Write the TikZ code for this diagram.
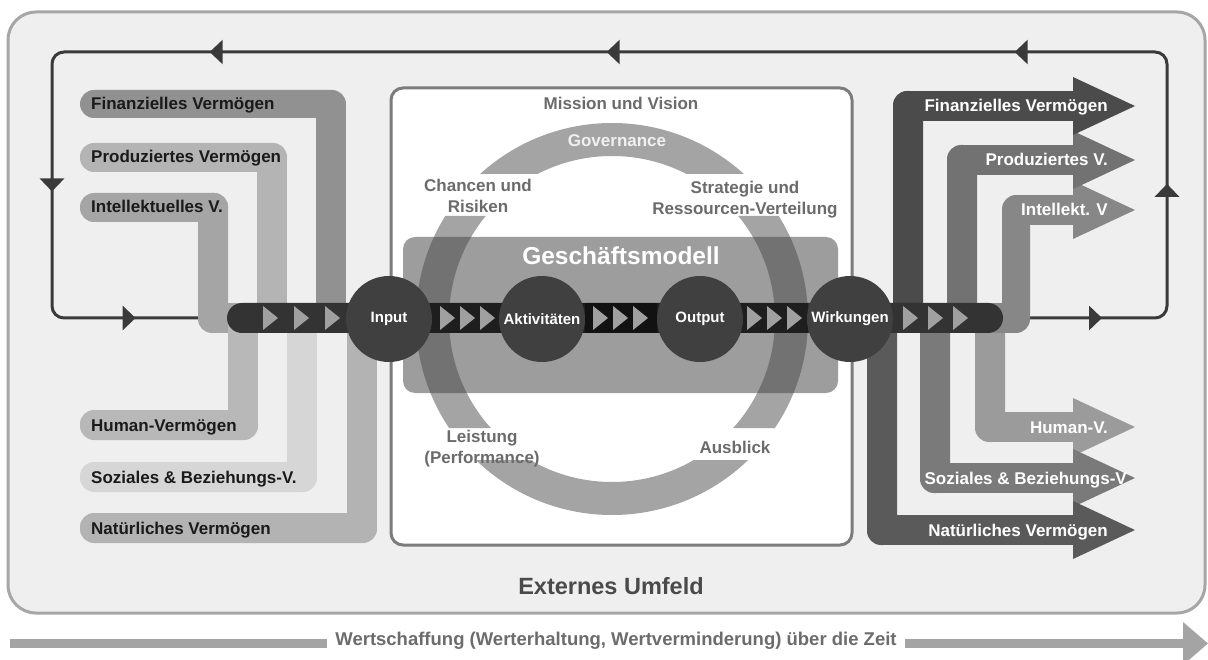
\documentclass[tikz,border=0pt]{standalone}
\usepackage{fontspec}
\setmainfont{Liberation Sans}
\usetikzlibrary{decorations.markings,arrows.meta}
\definecolor{bgfill}{HTML}{EFEFEF}
\definecolor{bgdraw}{HTML}{A6A6A6}
\definecolor{loopc}{HTML}{3A3A3A}
\definecolor{boxdraw}{HTML}{7C7C7C}
\definecolor{ringfill}{HTML}{A4A4A4}
\definecolor{gmfill}{HTML}{464646}
\definecolor{barfill}{HTML}{333333}
\definecolor{barmid}{HTML}{1E1E1E}
\definecolor{barcore}{HTML}{121212}
\definecolor{chevfill}{HTML}{A0A0A0}
\definecolor{hubfill}{HTML}{404040}
\definecolor{lbltext}{HTML}{1A1A1A}
\definecolor{ringtext}{HTML}{6B6B6B}
\definecolor{cLF}{HTML}{919191}
\definecolor{cLP}{HTML}{B4B4B4}
\definecolor{cLI}{HTML}{A5A5A5}
\definecolor{cLH}{HTML}{B8B8B8}
\definecolor{cLS}{HTML}{D6D6D6}
\definecolor{cLN}{HTML}{B3B3B3}
\definecolor{cRF}{HTML}{4B4B4B}
\definecolor{cRP}{HTML}{727272}
\definecolor{cRI}{HTML}{878787}
\definecolor{cRH}{HTML}{9B9B9B}
\definecolor{cRS}{HTML}{7A7A7A}
\definecolor{cRN}{HTML}{5A5A5A}
\definecolor{timec}{HTML}{A4A4A4}
\definecolor{timetext}{HTML}{6C6C6C}
\definecolor{extc}{HTML}{4A4A4A}
\begin{document}
\begin{tikzpicture}[x=1pt,y=-1pt,
  every node/.style={inner sep=0pt},
  lbl/.style={font=\fontsize{17}{21}\selectfont\bfseries},
  leftlbl/.style={lbl, text=lbltext, anchor=base west},
  rightlbl/.style={lbl, text=white, anchor=base east},
  ringlbl/.style={lbl, text=ringtext, align=center},
  hub/.style={circle, fill=hubfill, minimum size=86pt, text=white, font=\fontsize{15}{18}\selectfont\bfseries},
  chev/.style={fill=chevfill},
  loopline/.style={draw=loopc, line width=3pt, rounded corners=12pt,
    postaction={decorate},
    decoration={markings,
      mark=at position 74pt with {\arrow{Triangle[width=24pt,length=13pt]}},
      mark=at position 268pt with {\arrow{Triangle[width=24pt,length=13pt]}},
      mark=at position 547pt with {\arrow{Triangle[width=24pt,length=13pt]}},
      mark=at position 955pt with {\arrow{Triangle[width=24pt,length=13pt]}},
      mark=at position 1352pt with {\arrow{Triangle[width=24pt,length=13pt]}},
      mark=at position 1644pt with {\arrow{Triangle[width=24pt,length=13pt]}},
      mark=at position 1849pt with {\arrow{Triangle[width=24pt,length=13pt]}}}},
]
\useasboundingbox (0,0) rectangle (1208,660);
\fill[white] (0,0) rectangle (1208,660);
% external environment
\draw[line width=3pt, draw=bgdraw, fill=bgfill, rounded corners=28pt] (8,12) rectangle (1205,613);
\node[font=\fontsize{23.5}{27}\selectfont\bfseries, text=extc, anchor=base] (ext) at (611,594) {Externes Umfeld};
% feedback loop
\coordinate (fbStart) at (1028,318);
\coordinate (fbC1) at (1167,318);
\coordinate (fbC2) at (1167,52);
\coordinate (fbC3) at (52,52);
\coordinate (fbC4) at (52,318);
\coordinate (fbEnd) at (202,318);
\draw[loopline] (fbStart) -- (fbC1) -- (fbC2) -- (fbC3) -- (fbC4) -- (fbEnd);
% centre box
\draw[line width=3pt, draw=boxdraw, fill=white, rounded corners=12pt] (391,88) rectangle (852,545);
\node[lbl, text=ringtext, anchor=base] (mission) at (621,110) {Mission und Vision};
% ring
\coordinate (ringc) at (612,319);
\begin{scope}
\clip (380,100) rectangle (840,174) (380,216) rectangle (840,428) (380,460) rectangle (840,530);
\fill[ringfill, even odd rule] (ringc) circle[radius=196pt] (ringc) circle[radius=163pt];
\end{scope}
% business model box
\fill[gmfill, fill opacity=0.53, rounded corners=12pt] (403,237) rectangle (838,393);
\node[font=\fontsize{24.5}{28}\selectfont\bfseries, text=white, anchor=base] (gm) at (621,265) {Geschäftsmodell};
\node[lbl, text=white!94!black, anchor=base] (gov) at (617,147) {Governance};
\node[ringlbl] (chancen) at (478,196) {Chancen und\\Risiken};
\node[ringlbl] (strat) at (745,200) {Strategie und\\Ressourcen-Verteilung};
\node[ringlbl] (leist) at (482,449) {Leistung\\(Performance)};
\node[ringlbl] (ausb) at (735,447) {Ausblick};
% left input bands
\fill[cLF, rounded corners=14pt] (80,90) rectangle (346,118);
\fill[cLF] (316,104) rectangle (346,318);
\fill[cLP, rounded corners=14pt] (80,143) rectangle (287,172);
\fill[cLP] (257,157) rectangle (287,318);
\fill[cLI, rounded corners=14pt] (80,193) rectangle (228,222);
\fill[cLI, rounded corners=14pt] (198,193) rectangle (228,333);
\fill[cLI] (213,303) rectangle (246,333);
\fill[cLH, rounded corners=14pt] (80,410) rectangle (258,440);
\fill[cLH] (228,318) rectangle (258,425);
\fill[cLS, rounded corners=14pt] (80,462) rectangle (317,492);
\fill[cLS] (287,318) rectangle (317,477);
\fill[cLN, rounded corners=14pt] (80,513) rectangle (377,543);
\fill[cLN] (347,318) rectangle (377,528);
\node[leftlbl] (lFin) at (91,110) {Finanzielles Vermögen};
\node[leftlbl] (lProd) at (91,163) {Produziertes Vermögen};
\node[leftlbl] (lInt) at (91,213) {Intellektuelles V.};
\node[leftlbl] (lHum) at (91,431) {Human-Vermögen};
\node[leftlbl] (lSoz) at (91,483) {Soziales \& Beziehungs-V.};
\node[leftlbl] (lNat) at (91,534) {Natürliches Vermögen};
% right output bands
\fill[cRN, rounded corners=14pt] (867,305) rectangle (897,545);
\fill[cRN] (882,515) rectangle (1074,545);
\fill[cRS, rounded corners=14pt] (920,305) rectangle (950,493);
\fill[cRS] (935,463) rectangle (1074,493);
\fill[cRH, rounded corners=14pt] (975,305) rectangle (1005,442);
\fill[cRH] (990,412) rectangle (1074,442);
\fill[cRF, rounded corners=14pt] (893,91) rectangle (923,330);
\fill[cRF] (908,91) rectangle (1074,121);
\fill[cRP, rounded corners=14pt] (947,145) rectangle (977,330);
\fill[cRP] (962,145) rectangle (1074,175);
\fill[cRI, rounded corners=14pt] (1002,195) rectangle (1030,333);
\fill[cRI] (1016,195) rectangle (1074,225);
\fill[cRI] (985,303) rectangle (1016,333);
\fill[cRI] (1073,181) -- (1135,210) -- (1073,239) -- cycle;
\fill[cRP] (1073,131) -- (1135,160) -- (1073,189) -- cycle;
\fill[cRF] (1073,77) -- (1135,106) -- (1073,135) -- cycle;
\fill[cRH] (1073,398) -- (1135,427) -- (1073,456) -- cycle;
\fill[cRS] (1073,449) -- (1135,478) -- (1073,507) -- cycle;
\fill[cRN] (1073,501) -- (1135,530) -- (1073,559) -- cycle;
\node[rightlbl] (rFin) at (1108,112) {Finanzielles Vermögen};
\node[rightlbl] (rProd) at (1108,166) {Produziertes V.};
\node[rightlbl] (rInt) at (1108,216) {Intellekt. V};
\node[rightlbl] (rHum) at (1108,433) {Human-V.};
\node[rightlbl] (rSoz) at (1127,484) {Soziales \& Beziehungs-V};
\node[rightlbl] (rNat) at (1108,536) {Natürliches Vermögen};
% value chain bar
\fill[barfill, rounded corners=15pt] (227,303) rectangle (1003,333);
\fill[barmid] (430,303) rectangle (808,333);
\fill[barcore] (585,303) rectangle (657,333);
\foreach \cx in {263,294,325,440,460,480,593,613,633,747,767,787,903,928,953}
  \fill[chev] (\cx,306) -- ++(15,12) -- ++(-15,12) -- cycle;
\node[hub] (input) at (389,319) {Input};
\node[hub] (akt) at (542,319) {Aktivitäten};
\node[hub] (out) at (700,319) {Output};
\node[hub] (wirk) at (850,319) {Wirkungen};
% time arrow
\coordinate (tStart) at (10,643.5);
\coordinate (tEnd) at (1184,643.5);
\draw[draw=timec, line width=9pt] (tStart) -- (tEnd);
\fill[timec] (1183,622) -- (1208,643.5) -- (1183,665) -- cycle;
\node[fill=white, inner xsep=8pt, inner ysep=2pt, font=\fontsize{18.5}{22}\selectfont\bfseries, text=timetext, anchor=base] (time) at (616,645) {Wertschaffung (Werterhaltung, Wertverminderung) über die Zeit};
\end{tikzpicture}
\end{document}
